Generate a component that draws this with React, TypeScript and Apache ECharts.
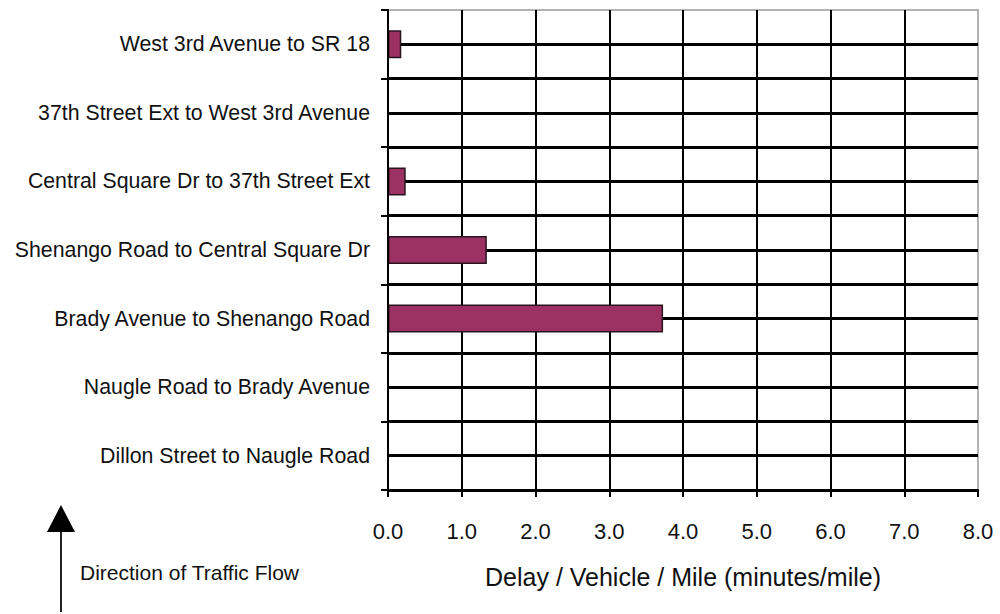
import React, { useEffect, useRef } from "react";
import * as echarts from "echarts";

// Categories listed top to bottom
const categories = [
  "West 3rd Avenue to SR 18",
  "37th Street Ext to West 3rd Avenue",
  "Central Square Dr to 37th Street Ext",
  "Shenango Road to Central Square Dr",
  "Brady Avenue to Shenango Road",
  "Naugle Road to Brady Avenue",
  "Dillon Street to Naugle Road",
];
const delayValues = [0.18, 0, 0.24, 1.34, 3.73, 0, 0];
const xTicks = { min: 0, max: 8, interval: 1 };
const axisTitle = "Delay / Vehicle / Mile (minutes/mile)";
const directionLabel = "Direction of Traffic Flow";

const FONT = "'Liberation Sans', Arial, sans-serif";

export default function App() {
  const ref = useRef<HTMLDivElement>(null);
  useEffect(() => {
    document.body.style.margin = "0";
    if (!ref.current) return;
    const chart = echarts.init(ref.current, undefined, { renderer: "svg" });
    const hColors: string[] = [];
    for (let i = 0; i <= 14; i++) hColors.push(i === 14 ? "transparent" : "#000");
    const vColors: string[] = [];
    for (let i = 0; i <= 8; i++) vColors.push(i === 8 ? "transparent" : "#000");
    chart.setOption({
      animation: false,
      backgroundColor: "#fff",
      grid: {
        left: 388,
        right: 22,
        top: 10,
        bottom: 124,
        show: true,
        borderColor: "#9a9a9a",
        borderWidth: 1.5,
        outerBoundsMode: "none",
      },
      xAxis: {
        type: "value",
        min: xTicks.min,
        max: xTicks.max,
        interval: xTicks.interval,
        axisLine: { show: true, lineStyle: { color: "#000", width: 2 } },
        axisTick: { show: true, inside: false, length: 7, lineStyle: { color: "#000", width: 2 } },
        axisLabel: {
          margin: 30,
          fontSize: 22,
          fontFamily: FONT,
          color: "#111",
          formatter: (v: number) => v.toFixed(1),
        },
        splitLine: { show: true, lineStyle: { color: vColors, width: 2 } },
        name: axisTitle,
        nameLocation: "middle",
        nameGap: 74,
        nameTextStyle: { fontSize: 25, fontFamily: FONT, color: "#111" },
      },
      yAxis: [
        {
          type: "category",
          data: categories,
          inverse: true,
          position: "left",
          axisLine: { show: true, lineStyle: { color: "#000", width: 2 } },
          axisTick: { show: true, inside: false, length: 7, lineStyle: { color: "#000", width: 2 } },
          axisLabel: { margin: 18, fontSize: 21.3, fontFamily: FONT, color: "#111" },
          splitLine: { show: false },
          z: 5,
        },
        {
          type: "value",
          min: 0,
          max: 7,
          interval: 0.5,
          position: "left",
          axisLine: { show: false },
          axisTick: { show: false },
          axisLabel: { show: false },
          splitLine: { show: true, lineStyle: { color: hColors, width: 3 } },
        },
      ],
      series: [
        {
          type: "bar",
          yAxisIndex: 0,
          data: delayValues,
          barWidth: 28,
          itemStyle: { color: "#9c3264", borderColor: "#2a1420", borderWidth: 1.5 },
          z: 3,
        },
      ],
      graphic: [
        {
          type: "line",
          shape: { x1: 61, y1: 530, x2: 61, y2: 612 },
          style: { stroke: "#222", lineWidth: 2 },
        },
        {
          type: "polygon",
          shape: { points: [[61, 505], [47, 532], [75, 532]] },
          style: { fill: "#000" },
        },
        {
          type: "text",
          x: 80,
          y: 572,
          style: {
            text: directionLabel,
            fontSize: 21,
            fontFamily: FONT,
            fill: "#111",
            verticalAlign: "middle",
            align: "left",
          },
        },
      ],
    });
    return () => chart.dispose();
  }, []);
  return <div ref={ref} style={{ width: 1000, height: 614 }} />;
}
